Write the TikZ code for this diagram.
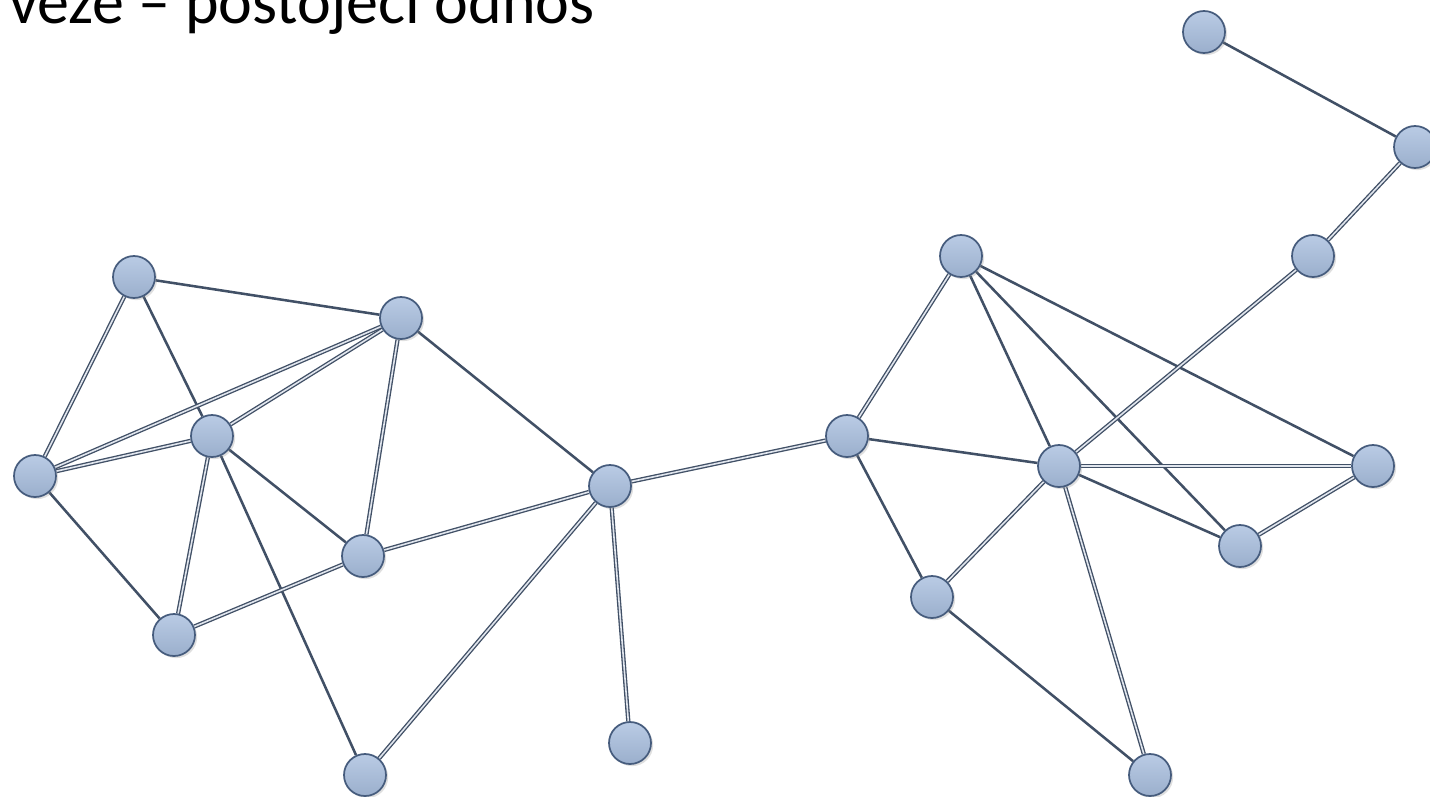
\documentclass[tikz,border=0pt]{standalone}
\usepackage{fontspec}
\setmainfont{Carlito}
\usetikzlibrary{shadows,backgrounds}
\definecolor{nodefill}{RGB}{168,190,222}
\definecolor{nodeedge}{RGB}{70,92,125}
\definecolor{edgedark}{RGB}{65,80,102}
\definecolor{edgelight}{RGB}{225,230,238}
\tikzset{
  vert/.style={circle, minimum size=31.5pt, inner sep=0pt, draw=nodeedge, line width=1.3pt,
    top color=nodefill!80!white, bottom color=nodefill!92!black,
    drop shadow={opacity=0.25, shadow xshift=1.6pt, shadow yshift=-1.6pt}},
  sedge/.style={draw=edgedark, line width=1.9pt},
  dedge/.style={draw=edgedark, line width=1pt, double=edgelight, double distance=1.2pt},
}
\begin{document}
\begin{tikzpicture}[x=0.75pt,y=-0.75pt]
\useasboundingbox (0,0) rectangle (1430,796);
\node[anchor=base west, inner sep=0pt, font=\fontsize{48}{52}\selectfont] (title) at (9,23) {veze – postojeći odnos};
\node[vert] (A) at (134,277) {};
\node[vert] (B) at (401,318) {};
\node[vert] (C) at (212,436) {};
\node[vert] (D) at (35,476) {};
\node[vert] (E) at (363,556) {};
\node[vert] (F) at (174,635) {};
\node[vert] (G) at (365,775) {};
\node[vert] (H) at (610,486) {};
\node[vert] (I) at (630,743) {};
\node[vert] (J) at (847,436) {};
\node[vert] (K) at (961,256) {};
\node[vert] (L) at (1059,466) {};
\node[vert] (M) at (1373,466) {};
\node[vert] (N) at (1240,546) {};
\node[vert] (O) at (932,597) {};
\node[vert] (P) at (1150,775) {};
\node[vert] (Q) at (1313,256) {};
\node[vert] (R) at (1415,147) {};
\node[vert] (S) at (1204,32) {};
\begin{scope}[on background layer]
\fill[white] (0,0) rectangle (1430,796);
\draw[sedge] (A) -- (B);
\draw[dedge] (A) -- (D);
\draw[sedge] (A) -- (C);
\draw[dedge] (B) -- (D);
\draw[dedge] (B) -- (C);
\draw[dedge] (B) -- (E);
\draw[sedge] (B) -- (H);
\draw[dedge] (C) -- (D);
\draw[dedge] (C) -- (F);
\draw[sedge] (C) -- (E);
\draw[sedge] (C) -- (G);
\draw[sedge] (D) -- (F);
\draw[dedge] (E) -- (F);
\draw[dedge] (E) -- (H);
\draw[dedge] (H) -- (G);
\draw[dedge] (H) -- (I);
\draw[dedge] (H) -- (J);
\draw[dedge] (J) -- (K);
\draw[sedge] (J) -- (L);
\draw[sedge] (J) -- (O);
\draw[sedge] (K) -- (L);
\draw[sedge] (K) -- (N);
\draw[sedge] (K) -- (M);
\draw[dedge] (L) -- (M);
\draw[sedge] (L) -- (N);
\draw[dedge] (L) -- (O);
\draw[dedge] (L) -- (P);
\draw[dedge] (L) -- (Q);
\draw[dedge] (M) -- (N);
\draw[sedge] (O) -- (P);
\draw[dedge] (Q) -- (R);
\draw[sedge] (R) -- (S);
\end{scope}
\end{tikzpicture}
\end{document}
